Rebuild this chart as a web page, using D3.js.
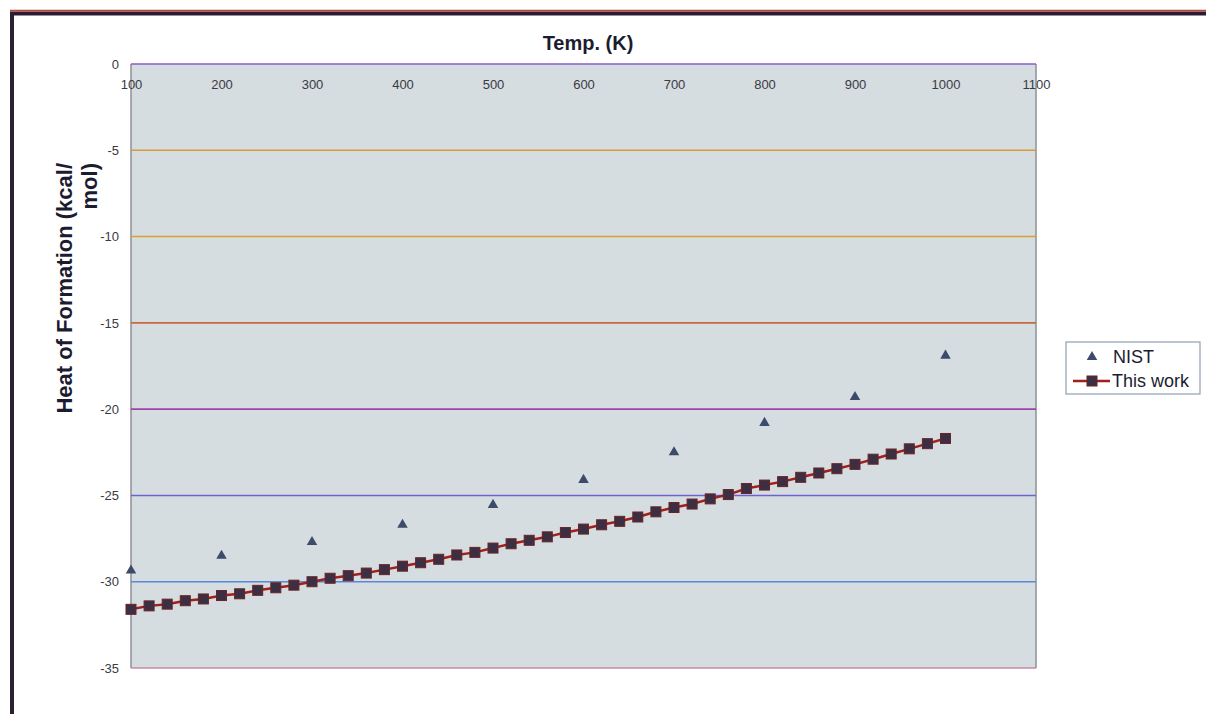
<!DOCTYPE html>
<html>
<head>
<meta charset="utf-8">
<script src="https://cdn.jsdelivr.net/npm/d3@7"></script>
<style>
body { margin: 0; background: #fff; }
svg text { font-family: Arial, "Liberation Sans", sans-serif; }
</style>
</head>
<body>
<div id="graph"></div>
<script>
"use strict";

// "This work" series, temperature in K
var temps = [100, 120, 140, 160, 180, 200, 220, 240, 260, 280,
             300, 320, 340, 360, 380, 400, 420, 440, 460, 480,
             500, 520, 540, 560, 580, 600, 620, 640, 660, 680,
             700, 720, 740, 760, 780, 800, 820, 840, 860, 880,
             900, 920, 940, 960, 980, 1000];
var thisWork = [-31.6, -31.4, -31.3, -31.1, -31.0, -30.8, -30.7, -30.5, -30.35, -30.2,
                -30.0, -29.8, -29.65, -29.5, -29.3, -29.1, -28.9, -28.7, -28.45, -28.3,
                -28.05, -27.8, -27.6, -27.4, -27.15, -26.95, -26.7, -26.5, -26.25, -25.95,
                -25.7, -25.5, -25.2, -24.95, -24.6, -24.4, -24.2, -23.95, -23.7, -23.45,
                -23.2, -22.9, -22.6, -22.3, -22.0, -21.7];

// NIST reference values
var nistTemps = [100, 200, 300, 400, 500, 600, 700, 800, 900, 1000];
var nistValues = [-29.35, -28.5, -27.7, -26.7, -25.55, -24.1, -22.5, -20.8, -19.3, -16.9];

var xTicks = [100, 200, 300, 400, 500, 600, 700, 800, 900, 1000, 1100];
var yTicks = [0, -5, -10, -15, -20, -25, -30, -35];

// scanned gridlines come out in odd colours
var gridColors = ["#8a5cc8", "#d89a3a", "#d8a030", "#c86a40", "#a040a8", "#7060d0", "#5a88d8", "#c888a8"];

var svg = d3.select("#graph").append("svg")
  .attr("width", 1206)
  .attr("height", 714);

var plot = {left: 131, right: 1036, top: 64, bottom: 668};

var x = d3.scaleLinear().domain([100, 1100]).range([plot.left, plot.right]);
var y = d3.scaleLinear().domain([-35, 0]).range([plot.bottom, plot.top]);

// plain hyphen, no thousands comma
var plainFormat = function(d) { return String(d); };

//outer frame of the scan
svg.append("line")
  .attr("x1", 10).attr("x2", 1206).attr("y1", 10.5).attr("y2", 10.5)
  .attr("stroke", "#c8402a").attr("stroke-width", 1.5);
svg.append("line")
  .attr("x1", 10).attr("x2", 1206).attr("y1", 13.5).attr("y2", 13.5)
  .attr("stroke", "#2a1a34").attr("stroke-width", 4);
svg.append("line")
  .attr("x1", 12).attr("x2", 12).attr("y1", 12).attr("y2", 714)
  .attr("stroke", "#2a1f33").attr("stroke-width", 4);

//plot background
svg.append("rect")
  .attr("x", plot.left)
  .attr("y", plot.top)
  .attr("width", plot.right - plot.left)
  .attr("height", plot.bottom - plot.top)
  .attr("fill", "#d5dde0");

svg.append("line")
  .attr("x1", plot.left).attr("x2", plot.left).attr("y1", plot.top).attr("y2", plot.bottom)
  .attr("stroke", "#8a9098").attr("stroke-width", 1.5);
svg.append("line")
  .attr("x1", plot.right).attr("x2", plot.right).attr("y1", plot.top).attr("y2", plot.bottom)
  .attr("stroke", "#8a9098").attr("stroke-width", 1.5);

//horizontal gridlines
svg.selectAll(".hLine")
  .data(yTicks)
  .enter().append("line")
  .attr("class", "hLine")
  .attr("x1", plot.left)
  .attr("x2", plot.right)
  .attr("y1", function(d) { return y(d); })
  .attr("y2", function(d) { return y(d); })
  .attr("stroke", function(d, i) { return gridColors[i]; })
  .attr("stroke-width", 1.6);

//x axis, labels sit under the zero line
var xAxis = svg.append("g")
  .attr("class", "axis axis--x")
  .attr("transform", "translate(0," + plot.top + ")")
  .call(d3.axisBottom(x).tickValues(xTicks).tickFormat(plainFormat).tickSize(0).tickPadding(16));
xAxis.select(".domain").remove();
xAxis.selectAll("text")
  .attr("fill", "#3a3a44")
  .style("font-size", "13px");

//y axis
var yAxis = svg.append("g")
  .attr("class", "axis axis--y")
  .attr("transform", "translate(" + plot.left + ",0)")
  .call(d3.axisLeft(y).tickValues(yTicks).tickFormat(plainFormat).tickSize(0).tickPadding(12));
yAxis.select(".domain").remove();
yAxis.selectAll("text")
  .attr("fill", "#3a3a44")
  .style("font-size", "13px");

//titles
svg.append("text")
  .attr("x", 588)
  .attr("y", 50)
  .attr("text-anchor", "middle")
  .attr("fill", "#1c1c30")
  .style("font-size", "20px")
  .style("font-weight", "bold")
  .text("Temp. (K)");

svg.append("text")
  .attr("transform", "translate(72,163) rotate(-90)")
  .attr("text-anchor", "end")
  .attr("fill", "#1c1c30")
  .style("font-size", "22px")
  .style("font-weight", "bold")
  .text("Heat of Formation (kcal/");
svg.append("text")
  .attr("transform", "translate(97,163) rotate(-90)")
  .attr("text-anchor", "end")
  .attr("fill", "#1c1c30")
  .style("font-size", "22px")
  .style("font-weight", "bold")
  .text("mol)");

//this work: line with square markers
var line = d3.line()
  .x(function(d) { return x(d[0]); })
  .y(function(d) { return y(d[1]); });
var workData = temps.map(function(t, i) { return [t, thisWork[i]]; });

svg.append("path")
  .datum(workData)
  .attr("d", line)
  .attr("fill", "none")
  .attr("stroke", "#a0201c")
  .attr("stroke-width", 2.5);

svg.selectAll(".sq")
  .data(workData)
  .enter().append("rect")
  .attr("class", "sq")
  .attr("x", function(d) { return x(d[0]) - 5; })
  .attr("y", function(d) { return y(d[1]) - 5; })
  .attr("width", 10)
  .attr("height", 10)
  .attr("fill", "#3c2f44")
  .attr("stroke", "#6a2424")
  .attr("stroke-width", 1);

//NIST triangles
var tri = d3.symbol().type(d3.symbolTriangle).size(48);
svg.selectAll(".tri")
  .data(nistTemps)
  .enter().append("path")
  .attr("class", "tri")
  .attr("d", tri)
  .attr("transform", function(d, i) { return "translate(" + x(d) + "," + y(nistValues[i]) + ")"; })
  .attr("fill", "#3e4a6a");

//legend
var lg = svg.append("g").attr("transform", "translate(1066,342)");
lg.append("rect")
  .attr("width", 134)
  .attr("height", 52)
  .attr("fill", "#fff")
  .attr("stroke", "#8fa0b4")
  .attr("stroke-width", 1.2);
lg.append("path")
  .attr("d", tri)
  .attr("transform", "translate(26,15)")
  .attr("fill", "#3e4a6a");
lg.append("text")
  .attr("x", 47).attr("y", 21)
  .attr("fill", "#1c1c30")
  .style("font-size", "18px")
  .text("NIST");
lg.append("line")
  .attr("x1", 7).attr("x2", 44).attr("y1", 39).attr("y2", 39)
  .attr("stroke", "#a0201c").attr("stroke-width", 2.5);
lg.append("rect")
  .attr("x", 21).attr("y", 34).attr("width", 10).attr("height", 10)
  .attr("fill", "#3c2f44").attr("stroke", "#6a2424");
lg.append("text")
  .attr("x", 46).attr("y", 45)
  .attr("fill", "#1c1c30")
  .style("font-size", "18px")
  .text("This work");
</script>
</body>
</html>
